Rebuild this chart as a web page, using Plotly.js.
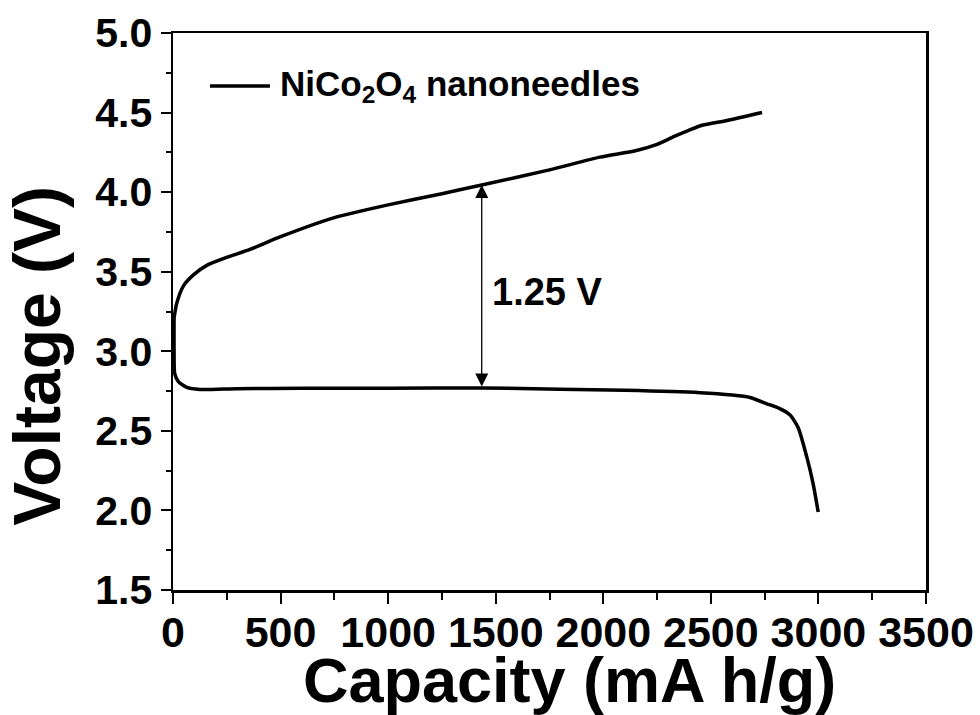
<!DOCTYPE html>
<html>
<head>
<meta charset="utf-8">
<script src="https://cdn.plot.ly/plotly-3.0.1.min.js"></script>
<style>html,body{margin:0;padding:0;background:#fff;}#chart{width:980px;height:715px;}</style>
</head>
<body>
<div id="chart"></div>
<script>
// Charge curve (capacity mA h/g, voltage V)
const chargeCapacity = [5, 17, 48, 95, 157, 250, 358, 500, 750, 1000, 1250, 1435, 1750, 1985, 2150, 2250, 2330, 2400, 2460, 2576, 2738];
const chargeVoltage  = [3.21, 3.30, 3.41, 3.48, 3.54, 3.59, 3.64, 3.72, 3.84, 3.92, 3.99, 4.045, 4.14, 4.22, 4.26, 4.30, 4.35, 4.39, 4.42, 4.45, 4.50];
// Discharge curve
const dischargeCapacity = [5, 5, 8, 25, 64, 125, 300, 600, 1000, 1435, 1800, 2100, 2450, 2600, 2682, 2761, 2820, 2868, 2906, 2947, 2975, 2999];
const dischargeVoltage  = [3.21, 3.0, 2.86, 2.81, 2.773, 2.76, 2.765, 2.768, 2.768, 2.77, 2.762, 2.755, 2.74, 2.725, 2.71, 2.67, 2.64, 2.60, 2.52, 2.33, 2.17, 1.99];
const seriesName = 'NiCo<sub>2</sub>O<sub>4</sub> nanoneedles';
const xTitle = 'Capacity (mA h/g)';
const yTitle = 'Voltage (V)';
// Voltage gap marker
const gapCapacity = 1435;
const gapTop = 4.045;
const gapBottom = 2.77;
const gapLabel = '1.25 V';
const gapLabelPos = [1474, 3.37];

const FONT = 'Liberation Sans, Arial, Helvetica, sans-serif';

const traces = [
  {x: chargeCapacity, y: chargeVoltage, mode: 'lines', name: 'NiCo2O4 nanoneedles (charge)',
   line: {color: '#000', width: 3.5, shape: 'spline', smoothing: 0.6}},
  {x: dischargeCapacity, y: dischargeVoltage, mode: 'lines', name: 'NiCo2O4 nanoneedles (discharge)',
   line: {color: '#000', width: 3.5, shape: 'spline', smoothing: 0.6}}
];

const layout = {
  width: 980, height: 715,
  margin: {l: 173, r: 54, t: 33, b: 125},
  paper_bgcolor: '#fff', plot_bgcolor: '#fff',
  font: {family: FONT, color: '#000'},
  showlegend: false,
  xaxis: {
    range: [0, 3500], dtick: 500, tick0: 0,
    showline: true, linewidth: 2.5, linecolor: '#000', mirror: true,
    ticks: 'outside', ticklen: 11, tickwidth: 2, tickcolor: '#000',
    minor: {dtick: 250, ticks: 'outside', ticklen: 7, tickwidth: 2, tickcolor: '#000'},
    showgrid: false, zeroline: false, ticklabelstandoff: -8,
    tickfont: {family: FONT, size: 43, weight: 'bold', color: '#000'}
  },
  yaxis: {
    range: [1.5, 5.0], dtick: 0.5, tick0: 1.5, tickformat: '.1f',
    showline: true, linewidth: 2.5, linecolor: '#000', mirror: true,
    ticks: 'outside', ticklen: 10, tickwidth: 2, tickcolor: '#000',
    minor: {dtick: 0.25, ticks: 'outside', ticklen: 5, tickwidth: 2, tickcolor: '#000'},
    showgrid: false, zeroline: false,
    tickfont: {family: FONT, size: 41, weight: 'bold', color: '#000'}
  },
  shapes: [
    {type: 'line', xref: 'paper', yref: 'paper', x0: 0.0491, x1: 0.1288, y0: 0.9048, y1: 0.9048,
     line: {color: '#000', width: 3.5}}
  ],
  annotations: [
    {xref: 'paper', yref: 'paper', x: 0.1394, y: 0.9048, xanchor: 'left', yanchor: 'middle',
     text: seriesName, showarrow: false, font: {family: FONT, size: 35, weight: 'bold', color: '#000'}},
    {xref: 'paper', yref: 'paper', x: 0.527, y: -0.162, xanchor: 'center', yanchor: 'middle',
     text: xTitle, showarrow: false, font: {family: FONT, size: 63, weight: 'bold', color: '#000'}},
    {xref: 'paper', yref: 'paper', x: -0.181, y: 0.42, xanchor: 'center', yanchor: 'middle', textangle: -90,
     text: yTitle, showarrow: false, font: {family: FONT, size: 66, weight: 'bold', color: '#000'}},
    {x: gapCapacity, y: gapTop, ax: gapCapacity, ay: gapBottom, axref: 'x', ayref: 'y', xref: 'x', yref: 'y',
     text: '', showarrow: true, arrowside: 'end+start', arrowhead: 2, startarrowhead: 2,
     arrowsize: 2, startarrowsize: 2, arrowwidth: 1.3, arrowcolor: '#000', standoff: 0, startstandoff: 0},
    {x: gapLabelPos[0], y: gapLabelPos[1], xref: 'x', yref: 'y', xanchor: 'left', yanchor: 'middle',
     text: gapLabel, showarrow: false, font: {family: FONT, size: 38, weight: 'bold', color: '#000'}}
  ]
};

Plotly.newPlot('chart', traces, layout, {displayModeBar: false, staticPlot: true});
</script>
</body>
</html>
